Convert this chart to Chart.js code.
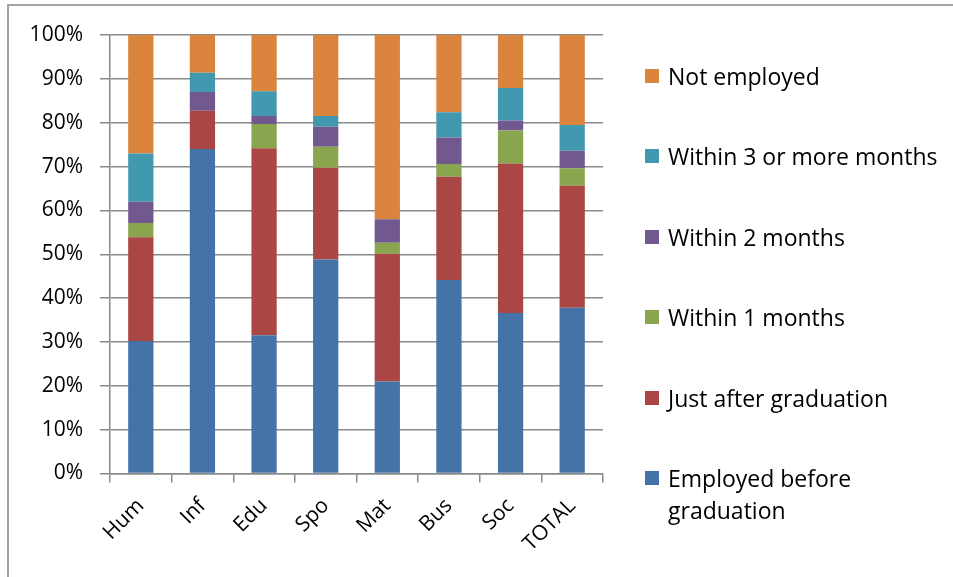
<!DOCTYPE html>
<html>
<head>
<meta charset="utf-8">
<title>Employment after graduation</title>
<script src="https://cdn.jsdelivr.net/npm/chart.js@4.4.1/dist/chart.umd.min.js"></script>
<style>
    body { margin: 0; background: #fff; }
    #wrap { position: relative; width: 953px; height: 577px; overflow: hidden; }
    #frame {
        position: absolute; left: 7px; top: 4px; width: 1000px; height: 700px;
        border-left: 2px solid #a3a3a3; border-top: 2px solid #a3a3a3;
    }
    #employment-chart { position: absolute; left: 0; top: 0; }
    #employment-legend {
        position: absolute; left: 645px; top: 60px; margin: 0; padding: 0; list-style: none;
        font-family: "Open Sans", sans-serif; font-size: 23px; color: #000;
    }
    #employment-legend li { position: absolute; left: 0; display: flex; align-items: flex-start; white-space: nowrap; }
    #employment-legend .box { width: 14px; height: 14px; margin-top: 9px; margin-right: 9px; flex: none; }
    #employment-legend .text { line-height: 32px; }
</style>
</head>
<body>
<div id="wrap">
    <div id="frame"></div>
    <canvas id="employment-chart" width="953" height="577"></canvas>
    <ul id="employment-legend"></ul>
</div>
<script>
const categories = ['Hum', 'Inf', 'Edu', 'Spo', 'Mat', 'Bus', 'Soc', 'TOTAL'];

// shares in percent, bottom of the stack first
const employedBefore = [30.2, 74.0, 31.5, 48.8, 21.0, 44.1, 36.6, 37.8];
const justAfter = [23.7, 8.7, 42.7, 20.9, 29.1, 23.6, 34.1, 27.8];
const withinOne = [3.2, 0, 5.5, 4.8, 2.5, 2.9, 7.5, 4.0];
const withinTwo = [4.9, 4.3, 1.8, 4.6, 5.4, 6.0, 2.3, 4.0];
const withinThree = [11.0, 4.4, 5.7, 2.4, 0, 5.8, 7.4, 5.9];
const notEmployed = [27.0, 8.6, 12.8, 18.5, 42.0, 17.6, 12.1, 20.5];

const seriesNames = [
    ['Employed before', 'graduation'],
    ['Just after graduation'],
    ['Within 1 months'],
    ['Within 2 months'],
    ['Within 3 or more months'],
    ['Not employed'],
];
const seriesValues = [employedBefore, justAfter, withinOne, withinTwo, withinThree, notEmployed];
const seriesColors = ['#4573a7', '#aa4643', '#89a54e', '#71588f', '#4198af', '#db843d'];

const yTickLabels = ['0%', '10%', '20%', '30%', '40%', '50%', '60%', '70%', '80%', '90%', '100%'];

const gridColor = '#8a8a8a';
const tickFont = { family: '"Open Sans", sans-serif', size: 21 };

const chart = new Chart(document.getElementById('employment-chart'), {
    type: 'bar',
    data: {
        labels: categories,
        datasets: seriesValues.map((values, i) => ({
            label: seriesNames[i].join(' '),
            data: values,
            backgroundColor: seriesColors[i],
            categoryPercentage: 1,
            barPercentage: 0.41,
        })),
    },
    options: {
        responsive: false,
        animation: false,
        devicePixelRatio: 1,
        layout: { padding: { top: 35, right: 350, left: 0, bottom: 0 } },
        plugins: {
            legend: { display: false },
            tooltip: { enabled: false },
        },
        scales: {
            x: {
                stacked: true,
                grid: {
                    offset: true,
                    drawOnChartArea: false,
                    tickLength: 9,
                    color: gridColor,
                    lineWidth: 1.5,
                },
                border: { color: gridColor, width: 1.5 },
                ticks: {
                    minRotation: 45,
                    maxRotation: 45,
                    padding: 11,
                    color: '#000',
                    font: tickFont,
                },
                afterFit: (scale) => { scale.height = 103.5; },
            },
            y: {
                stacked: true,
                min: 0,
                max: 100,
                grid: { tickLength: 10, color: gridColor, lineWidth: 1.5 },
                border: { color: gridColor, width: 1.5 },
                ticks: {
                    stepSize: 10,
                    padding: 17,
                    color: '#000',
                    font: tickFont,
                    callback: (value) => yTickLabels[Math.round(value / 10)],
                },
                afterFit: (scale) => { scale.width = 110; },
            },
        },
    },
});

// legend on the right, top series first
const legendEl = document.getElementById('employment-legend');
const rowPitch = 80.4;
seriesNames.slice().reverse().forEach((lines, i) => {
    const color = seriesColors[seriesNames.length - 1 - i];
    const item = document.createElement('li');
    item.style.top = (i * rowPitch) + 'px';
    item.innerHTML = `<span class="box" style="background:${color}"></span>` +
        `<span class="text">${lines.join('<br>')}</span>`;
    legendEl.appendChild(item);
});
</script>
</body>
</html>
